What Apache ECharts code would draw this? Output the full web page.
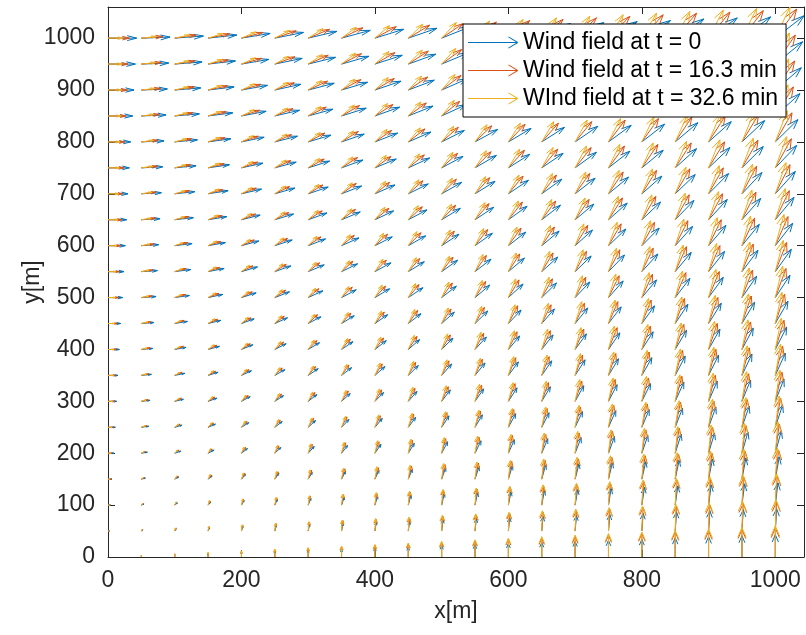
<!DOCTYPE html>
<html>
<head>
<meta charset="utf-8">
<script src="https://cdn.jsdelivr.net/npm/echarts@6/dist/echarts.min.js"></script>
<style>html,body{margin:0;padding:0;background:#fff;}#c{width:806px;height:635px;}</style>
</head>
<body>
<div id="c"></div>
<script>
// Grid positions (m)
const gridX = [0,50,100,150,200,250,300,350,400,450,500,550,600,650,700,750,800,850,900,950,1000];
const gridY = [0,50,100,150,200,250,300,350,400,450,500,550,600,650,700,750,800,850,900,950,1000];
// Horizontal wind component (depends on row y), as drawn length in m
const uBlue   = [0,2,4,6,9,11,13,15,17,19,22,24,26,28,30,32,34,37,39,41,43];
const uOrange = [0,2,3,5,6,8,10,11,13,14,16,17,19,21,22,24,25,27,29,30,32];
const uYellow = [0,1,2,3,4,6,7,8,9,10,11,12,13,15,16,17,18,19,20,21,22];
// Vertical wind component (depends on column x), as drawn length in m
const vBlue   = [0,2,4,6,9,11,13,15,17,19,22,24,26,28,30,32,34,37,39,41,43];
const vOrange = [0,3,6,8,11,14,17,20,22,25,28,31,34,36,39,42,45,48,50,53,56];
const vYellow = [0,3,6,9,12,15,18,21,24,27,30,33,36,39,42,45,48,51,54,57,60];
const seriesNames = ['Wind field at t = 0','Wind field at t = 16.3 min','WInd field at t = 32.6 min'];
const seriesColors = ['#0072BD','#D95319','#EDB120'];
const xTicks = [0,200,400,600,800,1000];
const yTicks = [0,100,200,300,400,500,600,700,800,900,1000];

function buildField(uRow, vCol) {
  const out = [];
  for (let j = 0; j < gridY.length; j++) {
    for (let i = 0; i < gridX.length; i++) {
      out.push([gridX[i], gridY[j], uRow[j], vCol[i]]);
    }
  }
  return out;
}
const fields = [buildField(uBlue, vBlue), buildField(uOrange, vOrange), buildField(uYellow, vYellow)];

const FONT = '"Liberation Sans", Arial, Helvetica, sans-serif';
const TXT = '#262626';
const AX = '#262626';

function renderArrow(color) {
  return function (params, api) {
    const x = api.value(0), y = api.value(1), u = api.value(2), v = api.value(3);
    if (u === 0 && v === 0) return null;
    const a = 0.33, b = 0.33;
    const p0 = api.coord([x, y]);
    const p1 = api.coord([x + u, y + v]);
    const h1 = api.coord([x + u - a * (u + b * v), y + v - a * (v - b * u)]);
    const h2 = api.coord([x + u - a * (u - b * v), y + v - a * (v + b * u)]);
    return {
      type: 'group',
      children: [
        { type: 'polyline', shape: { points: [p0, p1] }, style: { stroke: color, lineWidth: 1, fill: null } },
        { type: 'polyline', shape: { points: [h1, p1, h2] }, style: { stroke: color, lineWidth: 1, fill: null } }
      ]
    };
  };
}

const arrowIcon = 'path://M0 5.5 L49 5.5 L49 6.5 L0 6.5 Z M40.6 0 L50 5.6 L49.6 6.4 L40.2 0.8 Z M40.2 11.2 L49.6 5.6 L50 6.4 L40.6 12 Z';

const axisCommon = {
  type: 'value',
  splitLine: { show: false },
  axisLine: { show: true, onZero: false, lineStyle: { color: AX, width: 1 } },
};
const plainNum = v => String(v);

const option = {
  animation: false,
  backgroundColor: '#fff',
  grid: { left: 108, right: 2, top: 7, bottom: 78, containLabel: false },
  legend: {
    orient: 'vertical',
    left: 463, top: 24,
    padding: [7, 8, 7, 5],
    itemGap: 5,
    itemWidth: 50, itemHeight: 12,
    backgroundColor: '#fff',
    borderColor: '#000', borderWidth: 1,
    textStyle: { fontSize: 23, color: '#000', fontFamily: FONT },
    itemStyle: { borderWidth: 0 },
    data: seriesNames.map(n => ({ name: n, icon: arrowIcon }))
  },
  xAxis: [
    Object.assign({}, axisCommon, {
      min: 0, max: 1043, interval: 200, position: 'bottom',
      axisTick: { show: true, inside: true, length: 7, customValues: xTicks, lineStyle: { color: AX } },
      axisLabel: { customValues: xTicks, formatter: plainNum, fontSize: 23, color: TXT, fontFamily: FONT, margin: 12 },
      name: 'x[m]', nameLocation: 'middle', nameGap: 43, nameMoveOverlap: false,
      nameTextStyle: { fontSize: 23, color: TXT, fontFamily: FONT }
    }),
    Object.assign({}, axisCommon, {
      min: 0, max: 1043, interval: 200, position: 'top',
      axisTick: { show: true, inside: true, length: 7, customValues: xTicks, lineStyle: { color: AX } },
      axisLabel: { show: false }
    })
  ],
  yAxis: [
    Object.assign({}, axisCommon, {
      min: 0, max: 1060, interval: 100, position: 'left',
      axisTick: { show: true, inside: true, length: 7, customValues: yTicks, lineStyle: { color: AX } },
      axisLabel: { customValues: yTicks, formatter: plainNum, fontSize: 23, color: TXT, fontFamily: FONT, margin: 13 },
      name: 'y[m]', nameLocation: 'middle', nameGap: 64, nameRotate: 90, nameMoveOverlap: false,
      nameTextStyle: { fontSize: 23, color: TXT, fontFamily: FONT }
    }),
    Object.assign({}, axisCommon, {
      min: 0, max: 1060, interval: 100, position: 'right',
      axisTick: { show: true, inside: true, length: 7, customValues: yTicks, lineStyle: { color: AX } },
      axisLabel: { show: false }
    })
  ],
  series: fields.map((f, k) => ({
    name: seriesNames[k],
    type: 'custom',
    xAxisIndex: 0, yAxisIndex: 0,
    itemStyle: { color: seriesColors[k] },
    renderItem: renderArrow(seriesColors[k]),
    encode: { x: 0, y: 1 },
    clip: true,
    data: f
  }))
};

const chart = echarts.init(document.getElementById('c'), null, { renderer: 'canvas' });
chart.setOption(option);
</script>
</body>
</html>
